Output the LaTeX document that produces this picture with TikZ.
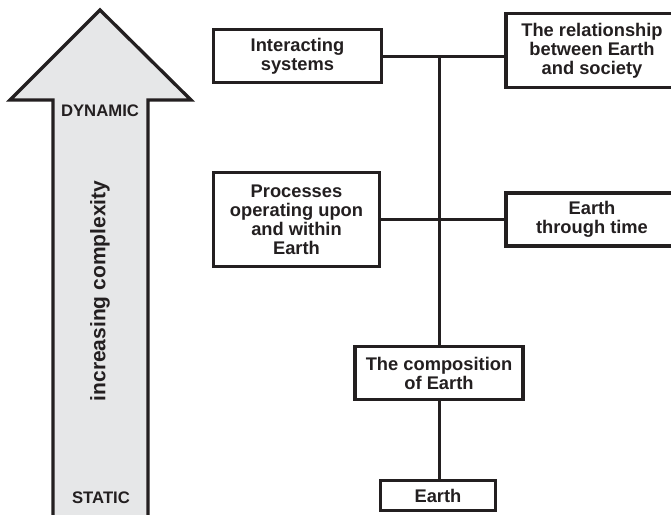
\documentclass[tikz,border=0pt]{standalone}
\usepackage{fontspec}
\setmainfont{Liberation Sans}
\definecolor{ink}{RGB}{35,31,32}
\definecolor{arrowfill}{RGB}{230,231,232}
\begin{document}
\begin{tikzpicture}[x=1pt,y=-1pt,
  box/.style={draw=ink, line width=3.3pt, fill=white, text=ink,
    font=\fontsize{18.3}{19}\selectfont\bfseries, align=center, inner sep=0pt},
  link/.style={draw=ink, line width=3pt},
  arrowlabel/.style={text=ink, font=\fontsize{16.7}{18}\selectfont\bfseries, inner sep=0pt}]
\useasboundingbox (0,0) rectangle (671,514);
\clip (0,0) rectangle (671,514);
\fill[white] (0,0) rectangle (671,514);
% big arrow
\draw[draw=ink, line width=3.3pt, fill=arrowfill, line join=miter]
  (100,10) -- (191,100) -- (148,100) -- (148,530) -- (53,530) -- (53,100) -- (10,100) -- cycle;
\node[arrowlabel] (dyn) at (100,111) {DYNAMIC};
\node[arrowlabel] (sta) at (101,498) {STATIC};
\node[text=ink, font=\fontsize{21}{24}\selectfont\bfseries, rotate=90, inner sep=0pt] (inc) at (100,291) {increasing complexity};
% boxes
\node[box, minimum width=168pt, minimum height=53pt] (I) at (297.5,56) {Interacting\\systems};
\node[box, minimum width=172pt, minimum height=74pt] (R) at (592,50.5) {The relationship\\between Earth\\and society};
\node[box, minimum width=166pt, minimum height=94pt] (P) at (296.5,219.5) {Processes\\operating upon\\and within\\Earth};
\node[box, minimum width=172pt, minimum height=53pt] (T) at (592,219.5) {Earth\\through time};
\node[box, minimum width=168pt, minimum height=53pt] (C) at (439,373) {The composition\\of Earth};
\node[box, minimum width=115pt, minimum height=30pt] (E) at (438,495.5) {Earth};
% connectors
\coordinate (J) at (C.north |- I.east);
\draw[link] (I.east) -- (R.west |- I.east);
\draw[link] (P.east) -- (T.west |- P.east);
\draw[link] (J) -- (C.north);
\draw[link] (C.south) -- (C.south |- E.north);
\end{tikzpicture}
\end{document}
